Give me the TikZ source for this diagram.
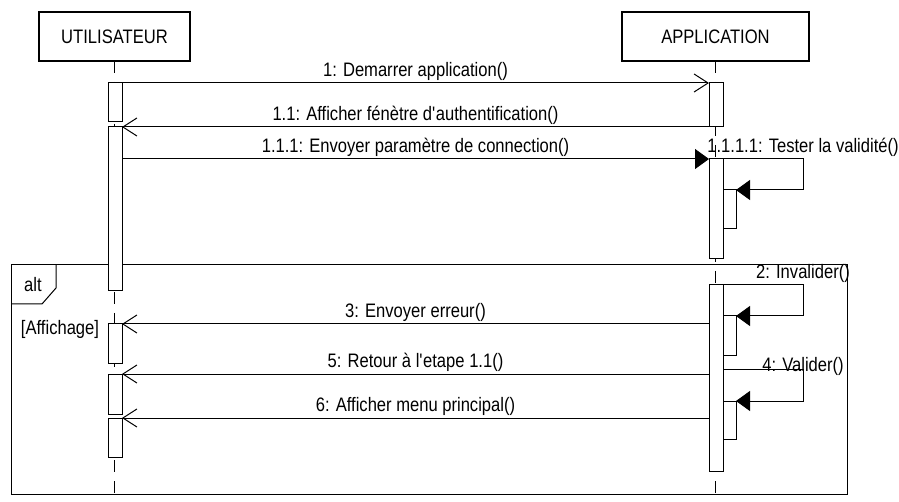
\documentclass[tikz,border=0pt]{standalone}
\usepackage{fontspec}
\setmainfont{Liberation Sans}[FakeStretch=0.85]
\usetikzlibrary{arrows.meta,positioning}

\begin{document}
\begin{tikzpicture}[
        x=1pt, y=-1pt,
        font=\fontsize{19.5}{21}\selectfont,
        line width=1pt,
        % 参与者与激活条样式
        actor/.style={draw, line width=2pt, minimum height=49pt, inner sep=0pt, outer sep=0pt},
        activ/.style={draw, fill=white, minimum width=14pt, minimum height=#1, inner sep=0pt, outer sep=0pt, anchor=north},
        nested/.style={draw, fill=white, minimum width=13pt, minimum height=#1, inner sep=0pt, outer sep=0pt, anchor=north west},
        lifeline/.style={dash pattern=on 12pt off 9pt},
        % 消息样式
        asyncmsg/.style={-{Straight Barb[length=14pt,width=18pt]}},
        syncmsg/.style={-{Triangle[length=14pt,width=20pt]}},
        msglabel/.style={above, inner sep=2pt},
        framelabel/.style={inner sep=0pt}
    ]
    \useasboundingbox (0,0) rectangle (899,502);

    % 参与者
    \node[actor, minimum width=151pt] (user) at (114.5,36.5) {UTILISATEUR};
    \node[actor, minimum width=187pt] (app) at (715.5,36.5) {APPLICATION};

    % alt 组合片段
    \draw (11,265) rectangle (847,494);
    \draw (11,304) -- (42,304) -- (56,288) -- (56,265);
    \node[framelabel] (altlbl) at (33,285) {alt};
    \node[framelabel] (guard) at (60,329) {[Affichage]};

    % 生命线
    \draw[lifeline] (user.south) -- (user.south |- 0,502);
    \draw[lifeline] (app.south) -- (app.south |- 0,502);

    % 激活条
    \node[activ=39pt] (uA1) at (115,83) {};
    \node[activ=164pt] (uA2) at (115,127) {};
    \node[activ=39pt] (uA3) at (115,324) {};
    \node[activ=40pt] (uA4) at (115,374) {};
    \node[activ=39pt] (uA5) at (115,418) {};
    \node[activ=44pt] (aA1) at (716,83) {};
    \node[activ=100pt] (aA2) at (716,159) {};
    \node[activ=186pt] (aA3) at (716,285) {};
    \node[nested=39pt] (aN1) at (723,190) {};
    \node[nested=39pt] (aN2) at (723,316) {};
    \node[nested=38pt] (aN3) at (723,401) {};
    \coordinate (s4) at (723,369);

    % 消息
    \draw[asyncmsg] (uA1.north east) -- (aA1.north west)
        node[msglabel, midway] (m1) {1: Demarrer application()};
    \draw[asyncmsg] (aA1.south west) -- (uA2.north east)
        node[msglabel, midway] (m11) {1.1: Afficher fénètre d\textquotesingle authentification()};
    \draw[syncmsg] (uA2.east |- aA2.north) -- (aA2.north west)
        node[msglabel, midway] (m111) {1.1.1: Envoyer paramètre de connection()};
    \draw[syncmsg] (aA2.north east) -- ++(80,0)
        node[msglabel] (m1111) {1.1.1.1: Tester la validité()} |- (aN1.north east);

    \draw[syncmsg] (aA3.north east) -- ++(80,0)
        node[msglabel] (m2) {2: Invalider()} |- (aN2.north east);
    \draw[asyncmsg] (aA3.west |- uA3.north) -- (uA3.north east)
        node[msglabel, midway] (m3) {3: Envoyer erreur()};
    \draw[syncmsg] (s4) -- ++(80,0)
        node[anchor=base, yshift=-2pt] (m4) {4: Valider()} |- (aN3.north east);
    \draw[asyncmsg] (aA3.west |- uA4.north) -- (uA4.north east)
        node[msglabel, midway] (m5) {5: Retour à l\textquotesingle etape 1.1()};
    \draw[asyncmsg] (aA3.west |- uA5.north) -- (uA5.north east)
        node[msglabel, midway] (m6) {6: Afficher menu principal()};

\end{tikzpicture}
\end{document}
